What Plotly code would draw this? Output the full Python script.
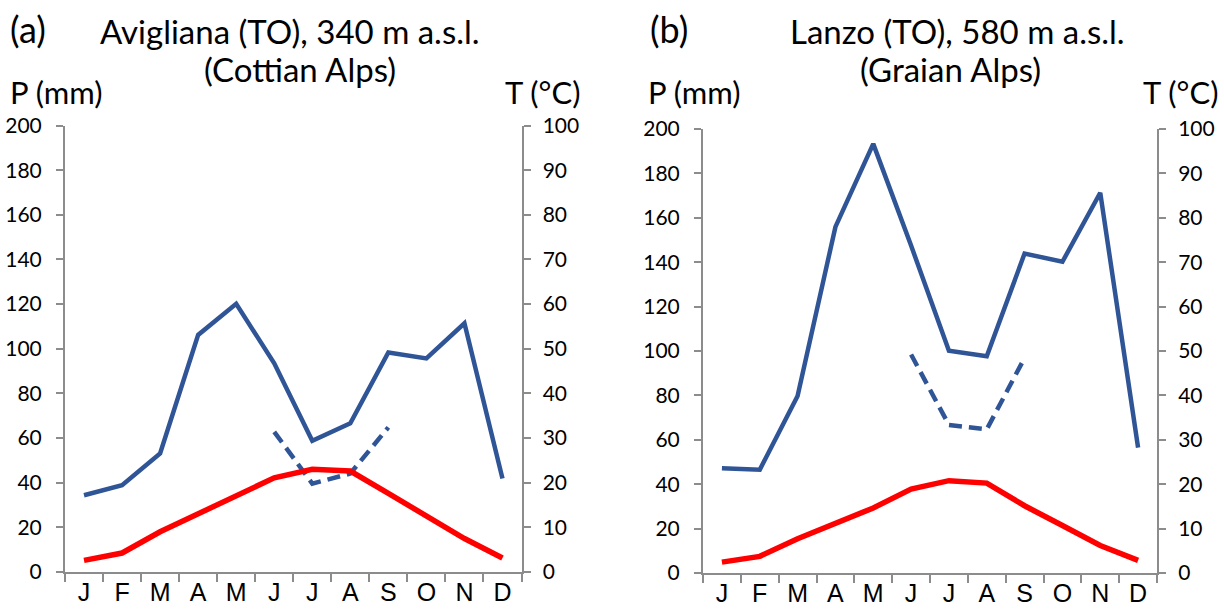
import plotly.graph_objects as go

W, H = 1224, 610

months = ["J", "F", "M", "A", "M ", "J ", "J  ", "A ", "S", "O", "N", "D"]
month_labels = ["J", "F", "M", "A", "M", "J", "J", "A", "S", "O", "N", "D"]

# Panel (a) Avigliana
p_a = [34.4, 38.9, 53.1, 106.2, 120.1, 93.5, 58.8, 66.6, 98.3, 95.7, 111.4, 41.9]      # mm
t_a = [2.6, 4.25, 9.0, 13.1, 17.2, 21.1, 23.0, 22.6, 17.6, 12.5, 7.5, 3.15]            # °C
dash_months_a = ["J ", "J  ", "A ", "S"]
dash_a = [62.8, 39.6, 44.1, 64.8]                                                        # mm scale

# Panel (b) Lanzo
p_b = [47.2, 46.5, 79.7, 155.9, 193.3, 147.5, 100.1, 97.6, 143.9, 140.2, 171.3, 56.5]
t_b = [2.45, 3.75, 7.7, 11.05, 14.65, 18.9, 20.8, 20.25, 15.15, 10.7, 6.2, 2.85]
dash_months_b = ["J ", "J  ", "A ", "S"]
dash_b = [98.4, 66.7, 64.7, 96.9]

BLUE = "#2F5597"
RED = "#FF0000"
GRAY = "#8C8C8C"
NUMFONT = "Lato, Carlito, sans-serif"
MONFONT = "Liberation Sans, Arial, sans-serif"


def px(x):
    return x / W


def py(y):
    return (H - y) / H


fig = go.Figure()

panels = [
    dict(p=p_a, t=t_a, dm=dash_months_a, d=dash_a, xs="x", ys="y", ys2="y2",
         x0=65, x1=521.5, y0=572, y1=125.5),
    dict(p=p_b, t=t_b, dm=dash_months_b, d=dash_b, xs="x2", ys="y3", ys2="y4",
         x0=703, x1=1157, y0=573, y1=129),
]

for pn in panels:
    fig.add_trace(go.Scatter(x=months, y=pn["p"], mode="lines", xaxis=pn["xs"], yaxis=pn["ys"],
                             line=dict(color=BLUE, width=4.5), showlegend=False))
    fig.add_trace(go.Scatter(x=months, y=pn["t"], mode="lines", xaxis=pn["xs"], yaxis=pn["ys2"],
                             line=dict(color=RED, width=5.5), showlegend=False))
    fig.add_trace(go.Scatter(x=pn["dm"], y=pn["d"], mode="lines", xaxis=pn["xs"], yaxis=pn["ys"],
                             line=dict(color=BLUE, width=4.5, dash="13px,7px"), showlegend=False))

common_x = dict(type="category", categoryorder="array", categoryarray=months,
                tickvals=months, ticktext=month_labels, automargin=False,
                range=[-0.5, 11.5], tickson="boundaries", ticks="outside", ticklen=8,
                tickwidth=2, tickcolor=GRAY, showline=True, linecolor=GRAY, linewidth=2,
                showgrid=False, zeroline=False, ticklabelstandoff=-3,
                tickfont=dict(family=MONFONT, size=25, color="#000"), fixedrange=True)
common_yl = dict(range=[0, 200], dtick=20, ticks="outside", ticklen=7, tickwidth=2,
                 tickcolor=GRAY, showline=True, linecolor=GRAY, linewidth=2, automargin=False,
                 showgrid=False, zeroline=False, ticklabelstandoff=10, fixedrange=True,
                 tickfont=dict(family=NUMFONT, size=21, color="#000"))
common_yr = dict(range=[0, 100], dtick=10, ticks="outside", ticklen=7, tickwidth=2,
                 tickcolor=GRAY, showline=True, linecolor=GRAY, linewidth=2, automargin=False,
                 showgrid=False, zeroline=False, ticklabelstandoff=8, side="right",
                 fixedrange=True, tickfont=dict(family=NUMFONT, size=21, color="#000"))

pa, pb = panels
fig.update_layout(
    xaxis=dict(common_x, domain=[px(pa["x0"]), px(pa["x1"])], anchor="y"),
    yaxis=dict(common_yl, domain=[py(pa["y0"]), py(pa["y1"])], anchor="x"),
    yaxis2=dict(common_yr, domain=[py(pa["y0"]), py(pa["y1"])], anchor="x", overlaying="y"),
    xaxis2=dict(common_x, domain=[px(pb["x0"]), px(pb["x1"])], anchor="y3"),
    yaxis3=dict(common_yl, domain=[py(pb["y0"]), py(pb["y1"])], anchor="x2"),
    yaxis4=dict(common_yr, domain=[py(pb["y0"]), py(pb["y1"])], anchor="x2", overlaying="y3"),
)

texts = [
    ("(a)", 8, 29, "left", 36),
    ("Avigliana (TO), 340 m a.s.l.", 290, 31, "center", 33),
    ("(Cottian Alps)", 300, 69, "center", 33),
    ("P (mm)", 8, 92, "left", 31),
    ("T (°C)", 582, 92, "right", 31),
    ("(b)", 648, 29, "left", 36),
    ("Lanzo (TO), 580 m a.s.l.", 957, 31, "center", 33),
    ("(Graian Alps)", 950, 69, "center", 33),
    ("P (mm)", 646, 92, "left", 31),
    ("T (°C)", 1220, 92, "right", 31),
]
for txt, x, y, anc, sz in texts:
    fig.add_annotation(text=txt, x=px(x), y=py(y), xref="paper", yref="paper",
                       xanchor=anc, yanchor="middle", showarrow=False,
                       font=dict(family=NUMFONT, size=sz, color="#000"))

fig.update_layout(width=W, height=H, margin=dict(l=0, r=0, t=0, b=0, pad=0, autoexpand=False),
                  paper_bgcolor="white", plot_bgcolor="white", showlegend=False)

fig.write_html("out.html", config={"displayModeBar": False},
               post_script="document.body.style.margin='0';document.body.style.overflow='hidden';")
